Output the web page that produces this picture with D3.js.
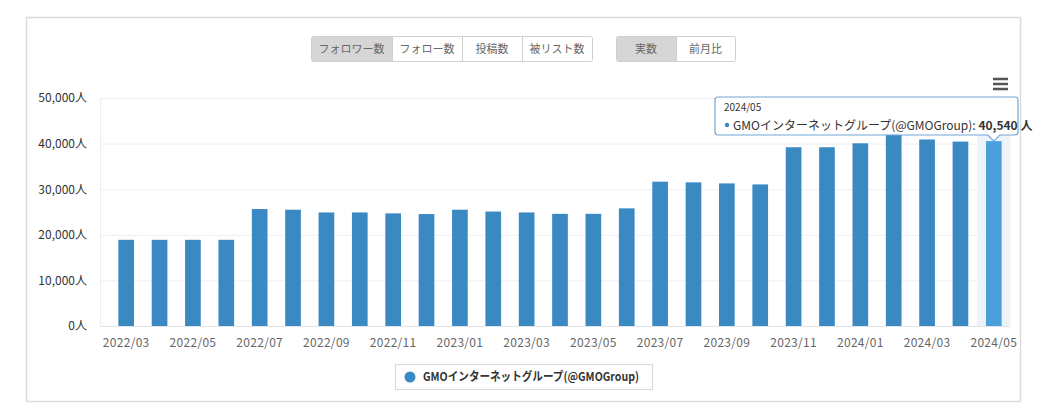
<!DOCTYPE html>
<html><head><meta charset="utf-8">
<script src="https://cdn.jsdelivr.net/npm/d3@7"></script>
<style>
html,body{margin:0;padding:0;background:#fff;}
svg{display:block;font-family:"Noto Sans CJK JP","Noto Sans",sans-serif;}
</style></head>
<body><svg id="c" width="1050" height="420"></svg>
<script>
const months = ["2022/03","2022/04","2022/05","2022/06","2022/07","2022/08","2022/09","2022/10","2022/11","2022/12",
"2023/01","2023/02","2023/03","2023/04","2023/05","2023/06","2023/07","2023/08","2023/09","2023/10","2023/11","2023/12",
"2024/01","2024/02","2024/03","2024/04","2024/05"];
const followers = [18900,18900,18900,18900,25650,25500,24900,24900,24700,24550,
25500,25100,24900,24600,24600,25800,31650,31500,31270,31050,39200,39200,
40070,42300,40900,40440,40540];
const seriesName = "GMOインターネットグループ(@GMOGroup)";
const yTicks = [0,10000,20000,30000,40000,50000];
const metricButtons = ["フォロワー数","フォロー数","投稿数","被リスト数"];
const modeButtons = ["実数","前月比"];
const hoverIndex = 26;

const svg = d3.select("#c");
const L = 100, R = 1010, T = 98, B = 326;

// outer frame
svg.append("rect").attr("x",26.5).attr("y",17.5).attr("width",994).attr("height",384)
  .attr("fill","#fff").attr("stroke","#dcdcdc").attr("stroke-width",1.5);

const x = d3.scaleBand().domain(months).range([109.5,1010.5]).paddingInner(0.53).paddingOuter(0.265);
const y = d3.scaleLinear().domain([0,50000]).range([B,T]);

// gridlines
svg.append("g").selectAll("line").data(yTicks.slice(1)).join("line")
  .attr("x1",L).attr("x2",R).attr("y1",d=>y(d)+0.5).attr("y2",d=>y(d)+0.5)
  .attr("stroke","#efeff4").attr("stroke-width",1);
// plot border
svg.append("rect").attr("x",L+0.5).attr("y",T+0.5).attr("width",R-L-1).attr("height",B-T)
  .attr("fill","none").attr("stroke","#eceef2");

// hover band
const step = x.step();
svg.append("rect").attr("x",x(months[hoverIndex]) + x.bandwidth()/2 - step/2).attr("y",T)
  .attr("width",step).attr("height",B-T).attr("fill","#eef3f9");

// y axis labels
const yAxis = d3.axisLeft(y).tickValues(yTicks).tickSize(0).tickPadding(0)
  .tickFormat(d=>d3.format(",")(d)+"人");
const yg = svg.append("g").attr("transform",`translate(87,0)`).call(yAxis);
yg.select(".domain").remove();
yg.selectAll("text").attr("font-size",12).attr("fill","#333").attr("font-family",'"Noto Sans CJK JP",sans-serif');

// bars
svg.append("g").selectAll("rect").data(followers).join("rect")
  .attr("x",(d,i)=>x(months[i]))
  .attr("y",d=>y(d))
  .attr("width",x.bandwidth())
  .attr("height",d=>B-y(d))
  .attr("fill",(d,i)=>i===hoverIndex?"#4a9fdc":"#3b89c3");

// x axis line
svg.append("line").attr("x1",L).attr("x2",R).attr("y1",B+0.5).attr("y2",B+0.5).attr("stroke","#e3e5ea");

// x labels
const xAxis = d3.axisBottom(x).tickValues(months.filter((m,i)=>i%2===0)).tickSize(0).tickPadding(0);
const xg = svg.append("g").attr("transform",`translate(0,${B+17})`).call(xAxis);
xg.select(".domain").remove();
xg.selectAll("text").attr("font-size",12).attr("fill","#666").attr("dy","0.35em")
  .attr("font-family",'"Noto Sans CJK JP",sans-serif').attr("letter-spacing","0.3px");

// buttons
function buttonGroup(labels, xs, selected){
  const g = svg.append("g");
  const top = 36, h = 25;
  g.append("rect").attr("x",xs[0]+0.5).attr("y",top+0.5).attr("width",xs[xs.length-1]-xs[0]).attr("height",h)
    .attr("rx",2).attr("fill","#fff").attr("stroke","#cfcfcf");
  labels.forEach((lab,i)=>{
    if(i===selected){
      g.append("rect").attr("x",xs[i]+1).attr("y",top+1).attr("width",xs[i+1]-xs[i]-0.5).attr("height",h-1)
        .attr("fill","#d6d6d6");
    }
    if(i>0){
      g.append("line").attr("x1",xs[i]+0.5).attr("x2",xs[i]+0.5).attr("y1",top+1).attr("y2",top+h)
        .attr("stroke","#cfcfcf");
    }
    g.append("text").attr("x",(xs[i]+xs[i+1])/2).attr("y",top+h/2+0.5).attr("dy","0.35em")
      .attr("text-anchor","middle").attr("font-size",11).attr("fill","#666").text(lab);
  });
}
buttonGroup(metricButtons,[311,392,462,522,592],0);
buttonGroup(modeButtons,[616,676,735],0);

// hamburger
[79,84,89].forEach(yy=>{
  svg.append("rect").attr("x",993).attr("y",yy-1.25).attr("width",15).attr("height",2.5).attr("fill","#555");
});

// legend
const lg = svg.append("g");
lg.append("rect").attr("x",395.5).attr("y",364.5).attr("width",257).attr("height",25)
  .attr("fill","#fff").attr("stroke","#d8d8d8");
lg.append("circle").attr("cx",410).attr("cy",377).attr("r",5.5).attr("fill","#3b89c3");
lg.append("text").attr("x",423).attr("y",377).attr("dy","0.35em").attr("font-size",12)
  .attr("font-weight","bold").attr("fill","#333")
  .attr("textLength",216).attr("lengthAdjust","spacingAndGlyphs").text(seriesName);

// tooltip
const hx = x(months[hoverIndex]) + x.bandwidth()/2;
const hy = y(followers[hoverIndex]);
const tg = svg.append("g");
const tL = 715, tT = 97, tR = 1018, tB = 135;
const path = `M${tL+3},${tT} H${tR-3} Q${tR},${tT} ${tR},${tT+3} V${tB-3} Q${tR},${tB} ${tR-3},${tB}
  H${hx+6} L${hx},${hy} L${hx-6},${tB} H${tL+3} Q${tL},${tB} ${tL},${tB-3} V${tT+3} Q${tL},${tT} ${tL+3},${tT} Z`;
tg.append("path").attr("d",path).attr("fill","rgba(255,255,255,0.95)").attr("stroke","#6fa8d8").attr("stroke-width",1.2);
tg.append("text").attr("x",724).attr("y",111).attr("font-size",10).attr("fill","#333").text(months[hoverIndex]);
tg.append("circle").attr("cx",727).attr("cy",125).attr("r",2.2).attr("fill","#3b89c3");
const tt = tg.append("text").attr("x",733).attr("y",129.5).attr("font-size",12).attr("fill","#333");
tt.append("tspan").text(seriesName+": ");
tt.append("tspan").attr("font-weight","bold").text(d3.format(",")(followers[hoverIndex])+" 人");
</script></body></html>
